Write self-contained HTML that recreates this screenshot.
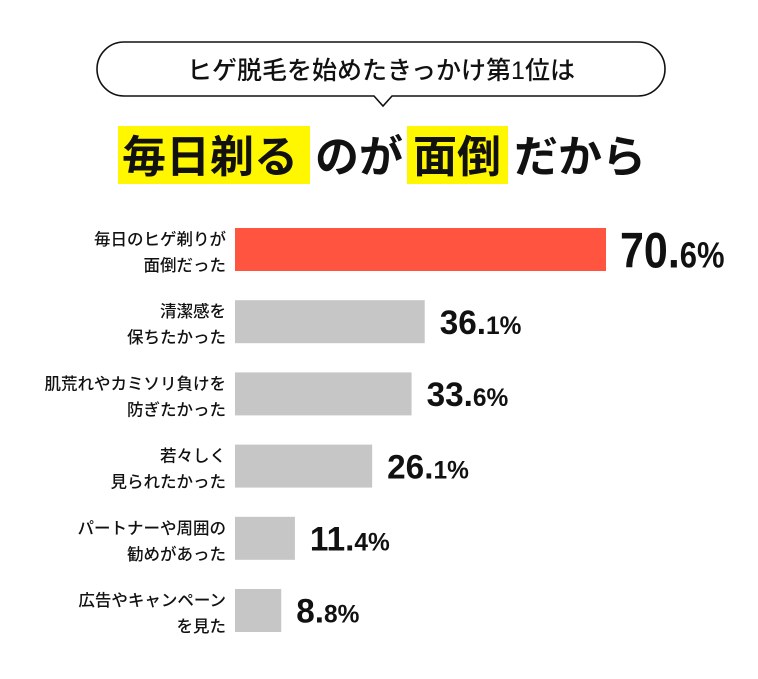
<!DOCTYPE html>
<html><head><meta charset="utf-8">
<style>
body{margin:0;width:758px;height:674px;background:#fff;overflow:hidden;font-family:"Liberation Sans","Noto Sans CJK JP",sans-serif;}
.jp{font-family:"Liberation Sans","Noto Sans CJK JP",sans-serif;}
</style></head>
<body>
<svg width="758" height="674" xmlns="http://www.w3.org/2000/svg">
  <g>
    <path d="M124,42 H638 A27,27 0 0 1 638,96 H392 L383,106 L374,96 H124 A27,27 0 0 1 124,42 Z" fill="#fff" stroke="#111" stroke-width="1.6"/>
    <text x="381" y="79" text-anchor="middle" font-size="25" font-weight="500" fill="#111" class="jp">ヒゲ脱毛を始めたきっかけ第1位は</text>
  </g>
  <g>
    <rect x="118" y="126" width="192" height="58" fill="#fff700"/>
    <rect x="407" y="126" width="101" height="58" fill="#fff700"/>
    <text x="122" y="172" font-size="44" font-weight="bold" fill="#111" class="jp">毎日剃る</text>
    <text x="315" y="172" font-size="44" font-weight="bold" fill="#111" class="jp">のが</text>
    <text x="413" y="172" font-size="44" font-weight="bold" fill="#111" class="jp">面倒</text>
    <text x="514" y="172" font-size="44" font-weight="bold" fill="#111" class="jp">だから</text>
  </g>
  <g id="bars"></g>
</svg>
<script>
const line1 = ["毎日のヒゲ剃りが","清潔感を","肌荒れやカミソリ負けを","若々しく","パートナーや周囲の","広告やキャンペーン"];
const line2 = ["面倒だった","保ちたかった","防ぎたかった","見られたかった","勧めがあった","を見た"];
const values = [70.6,36.1,33.6,26.1,11.4,8.8];
const x0=235, pxPer=5.255, y0=228, step=72.2, bh=43;
const xs=v=>x0+v*pxPer;
const ys=i=>y0+i*step;
const g=document.getElementById('bars');
const NS="http://www.w3.org/2000/svg";
values.forEach((v,i)=>{
  const y=ys(i);
  const r=document.createElementNS(NS,'rect');
  r.setAttribute('x',x0);r.setAttribute('y',y);r.setAttribute('width',xs(v)-x0);r.setAttribute('height',bh);
  r.setAttribute('fill',i===0?'#ff5540':'#c6c6c6');
  
  
  g.appendChild(r);
  [line1[i],line2[i]].forEach((t,k)=>{
    const tx=document.createElementNS(NS,'text');
    tx.setAttribute('x',226);tx.setAttribute('y',y+17+k*26);
    tx.setAttribute('text-anchor','end');tx.setAttribute('font-size','16.5');tx.setAttribute('font-weight','500');tx.setAttribute('fill','#111');
    tx.textContent=t;
    
    
    g.appendChild(tx);
  });
  const big=i===0;
  const fs=big?50:34, ps=big?36:25;
  const sc=big?0.86:0.98;
  const vx=xs(v)+(big?14:15);
  const vt=document.createElementNS(NS,'text');
  vt.setAttribute('transform','translate('+vx+','+(y+bh/2+fs*0.36)+') scale('+sc+',1)');
  vt.setAttribute('font-size',fs);vt.setAttribute('font-weight','bold');vt.setAttribute('fill','#111');
  const s=v.toFixed(1).split('.');
  vt.innerHTML='<tspan>'+s[0]+'.</tspan><tspan font-size="'+ps+'">'+s[1]+'%</tspan>';
  
  
  g.appendChild(vt);
});
</script>
</body></html>
